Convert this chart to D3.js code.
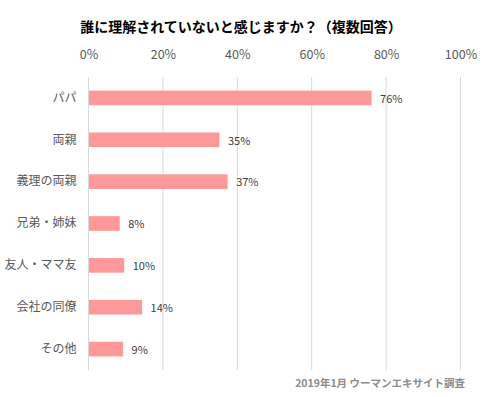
<!DOCTYPE html>
<html>
<head>
<meta charset="utf-8">
<script src="https://cdn.jsdelivr.net/npm/d3@7"></script>
<style>
  body { margin: 0; background: #fff; }
  svg { display: block; font-family: "Noto Sans CJK JP", "Noto Sans", sans-serif; }
</style>
</head>
<body>
<svg id="chart"></svg>
<script>
const categories = ['パパ', '両親', '義理の両親', '兄弟・姉妹', '友人・ママ友', '会社の同僚', 'その他'];
const values = [76.1, 35.2, 37.4, 8.4, 9.6, 14.4, 9.3];
const tickValues = [0, 20, 40, 60, 80, 100];
const title = '誰に理解されていないと感じますか？（複数回答）';
const source = '2019年1月 ウーマンエキサイト調査';

const width = 482, height = 397;
const margin = { top: 77, right: 21.5, bottom: 27, left: 88.5 };

const svg = d3.select('#chart').attr('width', width).attr('height', height);

const x = d3.scaleLinear()
    .domain([0, 100])
    .range([margin.left, width - margin.right]);

const y = d3.scaleBand()
    .domain(categories)
    .range([margin.top, height - margin.bottom])
    .paddingInner(0.65)
    .paddingOuter(0.325);

// gridlines
svg.append('g')
    .selectAll('line')
    .data(tickValues)
    .join('line')
    .attr('x1', d => x(d))
    .attr('x2', d => x(d))
    .attr('y1', margin.top)
    .attr('y2', height - margin.bottom)
    .attr('stroke', '#d9d9d9')
    .attr('stroke-width', 1);

// top axis labels
const axis = svg.append('g')
    .attr('transform', `translate(0,${margin.top - 15})`)
    .call(d3.axisTop(x).tickValues(tickValues).tickFormat(d => d + '%').tickSize(0));
axis.select('.domain').remove();
axis.selectAll('text')
    .attr('fill', '#595959')
    .attr('font-size', 12.5)
    .attr('font-family', '"Noto Sans CJK JP", "Noto Sans", sans-serif');

// category labels
const yAxis = svg.append('g')
    .attr('transform', `translate(${margin.left - 12},0)`)
    .call(d3.axisLeft(y).tickSize(0).tickPadding(0));
yAxis.select('.domain').remove();
yAxis.selectAll('text')
    .attr('fill', '#595959')
    .attr('font-size', 12)
    .attr('font-family', '"Noto Sans CJK JP", "Noto Sans", sans-serif');

// bars
svg.append('g')
    .selectAll('rect')
    .data(categories)
    .join('rect')
    .attr('x', x(0) + 0.5)
    .attr('y', d => y(d))
    .attr('width', (d, i) => x(values[i]) - x(0) - 0.5)
    .attr('height', y.bandwidth())
    .attr('fill', '#ff9999');

// value labels
svg.append('g')
    .selectAll('text')
    .data(categories)
    .join('text')
    .attr('x', (d, i) => x(values[i]) + 8.5)
    .attr('y', d => y(d) + y.bandwidth() / 2 + 1)
    .attr('dy', '0.35em')
    .attr('font-size', 11)
    .attr('fill', '#404040')
    .text((d, i) => Math.round(values[i]) + '%');

// title
svg.append('text')
    .attr('x', width / 2)
    .attr('y', 27)
    .attr('dy', '0.35em')
    .attr('text-anchor', 'middle')
    .attr('font-size', 14)
    .attr('font-weight', 'bold')
    .attr('fill', '#000')
    .text(title);

// source
svg.append('text')
    .attr('x', 465)
    .attr('y', 383)
    .attr('dy', '0.35em')
    .attr('text-anchor', 'end')
    .attr('font-size', 10.5)
    .attr('font-weight', 'bold')
    .attr('fill', '#8c8c8c')
    .text(source);
</script>
</body>
</html>
